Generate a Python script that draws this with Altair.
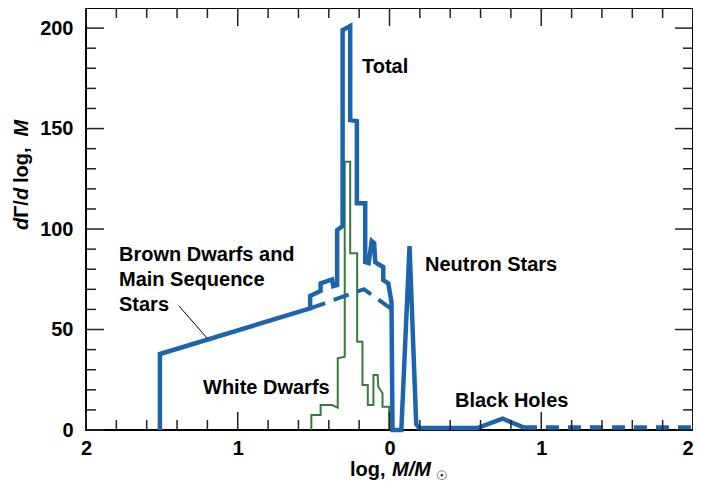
import altair as alt
import pandas as pd

# ---- data ----
# Total (thick solid blue): brown dwarfs + main sequence + white dwarfs, then neutron stars and black holes
tot_x = [-1.513, -1.513, -0.523, -0.523, -0.454, -0.454, -0.378, -0.371, -0.345, -0.345,
         -0.309, -0.309, -0.259, -0.259, -0.215, -0.215, -0.160, -0.160, -0.137, -0.117,
         -0.101, -0.094, -0.075, -0.041, -0.041, -0.008, 0.013, 0.020, 0.078, 0.132,
         0.176, 0.195, 0.578, 0.745, 0.886]
tot_y = [0, 37.8, 60.5, 66.7, 69.2, 73.0, 74.9, 71.6, 72.1, 99.5,
         101.5, 199.0, 201.0, 154.2, 153.7, 112.9, 112.9, 83.6, 83.1, 94.0,
         93.0, 83.6, 82.6, 81.1, 74.6, 73.0, 63.7, 0, 0, 91.5,
         3.0, 1.0, 1.0, 5.7, 1.2]

# Main sequence continuation (dashed blue)
ms_x = [-0.523, -0.169, 0.013]
ms_y = [60.5, 70.1, 60.2]

# Black hole tail (dashed blue)
bh_x = [0.886, 2.0]
bh_y = [1.2, 1.2]

# White dwarfs (thin green histogram)
wd_x = [-0.515, -0.515, -0.454, -0.454, -0.378, -0.341, -0.341, -0.295, -0.295, -0.259,
        -0.259, -0.213, -0.213, -0.178, -0.178, -0.143, -0.143, -0.106, -0.106, -0.078,
        -0.074, -0.046, -0.046, -0.002, -0.002]
wd_y = [0, 7.5, 7.5, 12.4, 12.4, 11.1, 35.7, 36.5, 133.5, 133.5,
        87.9, 87.9, 43.9, 43.9, 22.4, 22.4, 12.4, 12.4, 27.4, 27.4,
        21.5, 18.3, 11.6, 11.6, 0]

# ticks
x_major = [-2, -1, 0, 1, 2]
x_minor = [-1.8, -1.6, -1.4, -1.2, -0.8, -0.6, -0.4, -0.2,
           0.2, 0.4, 0.6, 0.8, 1.2, 1.4, 1.6, 1.8]
y_major = [0, 50, 100, 150, 200]
y_minor = [10, 20, 30, 40, 60, 70, 80, 90, 110, 120, 130, 140, 160, 170, 180, 190]

W, H = 607, 422
BLUE = "#1c65ac"
GREEN = "#3a7a3c"
FONT = "Liberation Sans"
FS = 20

xs = alt.Scale(domain=[-2, 2], nice=False, zero=False)
ys = alt.Scale(domain=[0, 210], nice=False, zero=False)

x_axis = alt.Axis(values=x_major, labelExpr="'' + abs(datum.value)", title=None,
                  ticks=False, domain=False, grid=False, labelFont=FONT,
                  labelFontSize=FS, labelFontWeight="bold", labelColor="black",
                  labelPadding=8, labelFlush=False,
                  labelAlign={"condition": {"test": "datum.value == 2", "value": "right"},
                              "value": "center"})
y_axis = alt.Axis(values=y_major, title=None, ticks=False, domain=False, grid=False,
                  labelFont=FONT, labelFontSize=FS, labelFontWeight="bold",
                  labelColor="black", labelPadding=13, labelFlush=False)

X = lambda f="x": alt.X(f"{f}:Q", scale=xs, axis=x_axis, title=None)
Y = lambda f="y": alt.Y(f"{f}:Q", scale=ys, axis=y_axis, title=None)


def series(xv, yv):
    return pd.DataFrame({"x": xv, "y": yv, "i": list(range(len(xv)))})


wd = alt.Chart(series(wd_x, wd_y)).mark_line(color=GREEN, strokeWidth=2, strokeJoin="miter").encode(
    x=X(), y=Y(), order="i:Q")


def blue_line(df, **kw):
    return alt.Chart(df).mark_line(color=BLUE, strokeJoin="miter", **kw).encode(
        x=X(), y=Y(), order="i:Q")


ms = blue_line(series(ms_x, ms_y), strokeWidth=4, strokeDash=[16, 9])
bh = blue_line(series(bh_x, bh_y), strokeWidth=4.5, strokeDash=[13, 9])
tot = blue_line(series(tot_x, tot_y), strokeWidth=4.5)


def xticks(vals, length, top):
    df = pd.DataFrame({"x": vals})
    y0 = 0 if top else H
    y1 = length if top else H - length
    return alt.Chart(df).mark_rule(color="#222", strokeWidth=1.5).encode(
        x=X(), y=alt.value(y0), y2=alt.value(y1))


def yticks(vals, length, right):
    df = pd.DataFrame({"y": vals})
    x0 = W if right else 0
    x1 = W - length if right else length
    return alt.Chart(df).mark_rule(color="#222", strokeWidth=1.5).encode(
        y=Y(), x=alt.value(x0), x2=alt.value(x1))


ticks = [xticks(x_major, 18, False), xticks(x_minor, 10, False),
         xticks(x_major, 18, True), xticks(x_minor, 10, True),
         yticks(y_major, 18, False), yticks(y_minor, 10, False),
         yticks(y_major, 18, True), yticks(y_minor, 10, True)]

dummy = pd.DataFrame({"a": [0]})


def label(text, px, py, size=FS, style="normal", angle=0, font=FONT, align="left"):
    return alt.Chart(dummy).mark_text(
        align=align, baseline="middle", font=font, fontSize=size, fontWeight="bold",
        fontStyle=style, angle=angle, color="black",
    ).encode(x=alt.value(px), y=alt.value(py), text=alt.value(text))


labels = [
    label("Total", 276, 59),
    label("Neutron Stars", 339, 257),
    label("Black Holes", 369, 393),
    label("White Dwarfs", 117, 380),
    label("Brown Dwarfs and", 33, 247),
    label("Main Sequence", 33, 272),
    label("Stars", 33, 297),
    # x-axis title: log, M/M☉
    label("log,", 264, 462),
    label("M/M", 306, 462, style="italic"),
    label("\u2609", 350, 468, size=13, font="DejaVu Sans"),
    # y-axis title: dΓ/d log, M (rotated)
    label("d", -64, 222, style="italic", angle=270),
    label("\u0393/", -64, 209.8, angle=270),
    label("d", -64, 192, style="italic", angle=270),
    label("log,", -64, 175, angle=270),
    label("M", -64, 128.5, style="italic", angle=270),
]

leader = alt.Chart(dummy).mark_rule(color="black", strokeWidth=1).encode(
    x=alt.value(93), y=alt.value(298), x2=alt.value(121), y2=alt.value(330))

chart = alt.layer(wd, ms, bh, tot, *ticks, leader, *labels).properties(
    width=W, height=H,
    autosize=alt.AutoSizeParams(type="none"),
    padding={"left": 78, "top": 0, "right": 0, "bottom": 56},
).configure(
    background="white",
    view=alt.ViewConfig(stroke="black", strokeWidth=2),
)

chart.save("out.html", embed_options={"renderer": "svg", "actions": False})
